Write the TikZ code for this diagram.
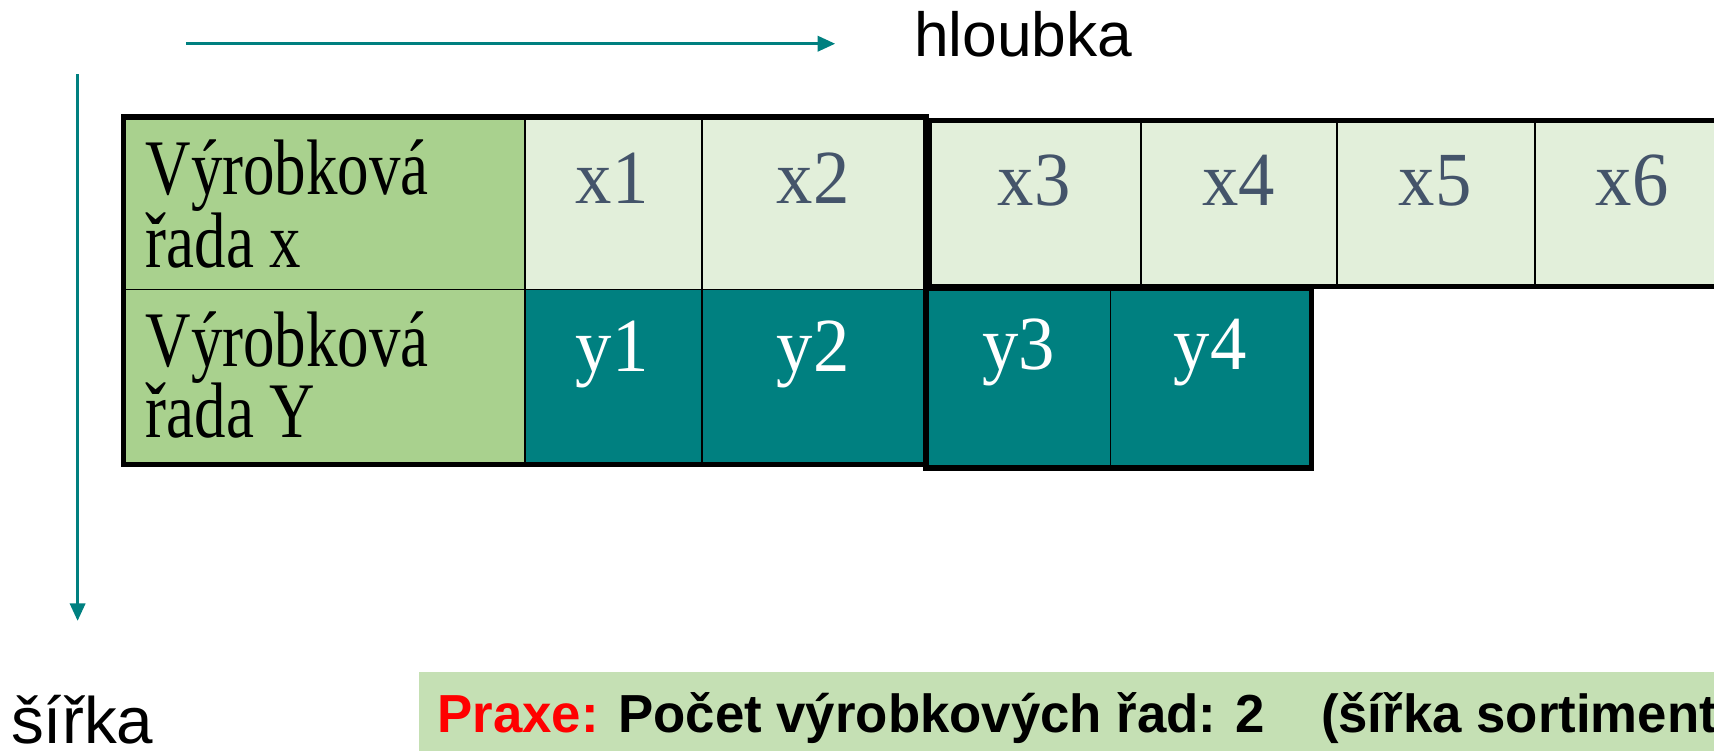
\documentclass[tikz,border=0pt]{standalone}
\usepackage{fontspec}
\setmainfont{Liberation Serif}
\newfontfamily\arialfont{Liberation Sans}
\newfontfamily\arialnarrow{Liberation Sans}[FakeStretch=0.985]
\newfontfamily\condserif{Liberation Serif}[FakeStretch=0.8]
\newfontfamily\xserif{Liberation Serif}[FakeStretch=0.95]
\usetikzlibrary{arrows.meta}
\definecolor{labgreen}{HTML}{A9D18E}
\definecolor{xcell}{HTML}{E2EFDA}
\definecolor{tealc}{HTML}{008080}
\definecolor{xtext}{HTML}{44546A}
\definecolor{boxgreen}{HTML}{C5E0B4}
\definecolor{praxered}{HTML}{FF0000}
\begin{document}
\begin{tikzpicture}[x=1pt,y=-1pt,
  cellbox/.style={draw=black, line width=1.5pt, anchor=north west, inner sep=0pt, outer sep=0pt},
  thickline/.style={draw=black, line width=5pt},
  labtext/.style={anchor=base west, inner sep=0pt, font=\condserif\fontsize{72}{67}\selectfont, text=black},
  xlab/.style={anchor=base, inner sep=0pt, font=\xserif\fontsize{70}{70}\selectfont, text=xtext},
  ylab/.style={anchor=base, inner sep=0pt, font=\xserif\fontsize{70}{70}\selectfont, text=white},
  arr/.style={draw=tealc, line width=2.5pt, -{Triangle[length=16pt,width=14pt]}},
  axistext/.style={anchor=base west, inner sep=0pt, font=\arialfont\fontsize{57}{60}\selectfont}]
\useasboundingbox (0,0) rectangle (1568,687);
\clip (0,0) rectangle (1568,687);
% row 1
\node[cellbox, fill=labgreen, minimum width=367pt, minimum height=158pt] (lx) at (113,107) {};
\node[cellbox, fill=xcell, minimum width=162pt, minimum height=158pt] (x1) at (480,107) {};
\node[cellbox, fill=xcell, minimum width=205pt, minimum height=158pt] (x2) at (642,107) {};
\node[cellbox, fill=xcell, minimum width=194pt, minimum height=152pt] (x3) at (850,110) {};
\node[cellbox, fill=xcell, minimum width=179pt, minimum height=152pt] (x4) at (1044,110) {};
\node[cellbox, fill=xcell, minimum width=181pt, minimum height=152pt] (x5) at (1223,110) {};
\node[cellbox, fill=xcell, minimum width=200pt, minimum height=152pt] (x6) at (1404,110) {};
% row 2
\node[cellbox, fill=labgreen, minimum width=367pt, minimum height=160pt] (ly) at (113,265) {};
\node[cellbox, fill=tealc, minimum width=162pt, minimum height=160pt] (y1) at (480,265) {};
\node[cellbox, fill=tealc, minimum width=205pt, minimum height=160pt] (y2) at (642,265) {};
\node[cellbox, fill=tealc, minimum width=169pt, minimum height=164pt] (y3) at (847,264) {};
\node[cellbox, fill=tealc, minimum width=184pt, minimum height=164pt] (y4) at (1016,264) {};
% thick outlines
\draw[thickline] (lx.north west) rectangle (y2.south east);
\draw[thickline] (x3.north west) rectangle (x6.south east);
\draw[thickline] (y3.north west) rectangle (y4.south east);
% texts
\node[labtext] (lx1) at (133,178) {Výrobková};
\node[labtext] (lx2) at (133,245) {řada x};
\node[labtext] (ly1) at (133,335) {Výrobková};
\node[labtext] (ly2) at (133,400) {řada Y};
\node[xlab] (x1t) at (560,186) {x1};
\node[xlab] (x2t) at (744,186) {x2};
\node[xlab] (x3t) at (946,188) {x3};
\node[xlab] (x4t) at (1133,188) {x4};
\node[xlab] (x5t) at (1313,188) {x5};
\node[xlab] (x6t) at (1493,188) {x6};
\node[ylab] (y1t) at (560,340) {y1};
\node[ylab] (y2t) at (744,340) {y2};
\node[ylab] (y3t) at (932,338) {y3};
\node[ylab] (y4t) at (1107,338) {y4};
% axes
\coordinate (hs) at (170,40);
\coordinate (he) at (764,40);
\draw[arr] (hs) -- (he);
\coordinate (vs) at (71,68);
\coordinate (ve) at (71,568);
\draw[arr] (vs) -- (ve);
\node[axistext] (hl) at (836,52) {hloubka};
\node[axistext, font=\arialfont\fontsize{60}{62}\selectfont] (sr) at (10,680) {šířka};
% bottom box
\node[anchor=north west, fill=boxgreen, inner sep=0pt, minimum width=1250pt, minimum height=90pt] (box) at (383,615) {};
\node[anchor=base west, inner sep=0pt, font=\arialnarrow\bfseries\fontsize{49}{55}\selectfont] (boxt) at (400,670) {\textcolor{praxered}{Praxe:} Počet výrobkových řad: 2\hspace{51pt}(šířka sortiment};
\end{tikzpicture}
\end{document}
